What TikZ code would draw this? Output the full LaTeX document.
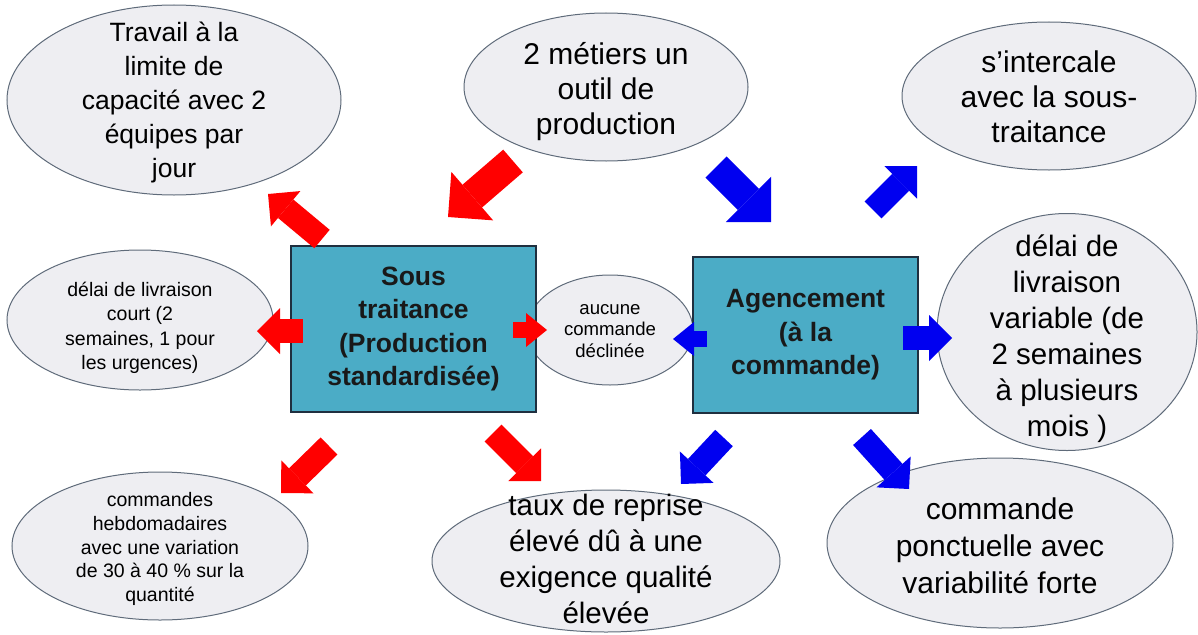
\documentclass[tikz,border=0pt]{standalone}
\usepackage{fontspec}
\setmainfont{Liberation Sans}
\usepackage{tikz}
\usetikzlibrary{arrows.meta, shapes.geometric}
\definecolor{bubblefill}{HTML}{EEEEF2}
\definecolor{bubbledraw}{HTML}{5F6B7A}
\definecolor{boxfill}{HTML}{4BACC6}
\definecolor{boxdraw}{HTML}{1F2F3F}
\definecolor{arrowred}{HTML}{FF0000}
\definecolor{arrowblue}{HTML}{0000F0}
\tikzset{
    bubble/.style={ellipse, draw=bubbledraw, fill=bubblefill, line width=1pt, inner sep=0pt}, % 椭圆气泡
    bubble text/.style={align=center, inner sep=0pt, text=black}, % 气泡中的文字
    main box/.style={draw=boxdraw, fill=boxfill, line width=1.5pt, align=center, text=black!90, font=\bfseries\fontsize{26.5}{33.5}\selectfont}, % 中间的两个方框
    small arrow/.style={line width=16pt, -{Triangle[length=21pt, width=34pt, line width=0pt]}}, % 小箭头
    mid arrow/.style={line width=24pt, -{Triangle[length=23pt, width=46pt, line width=0pt]}}, % 中箭头
    big arrow/.style={line width=30pt, -{Triangle[length=32pt, width=64pt, line width=0pt]}} % 大箭头
}
\begin{document}
\begin{tikzpicture}[x=1pt, y=-1pt]
            \def\W{1198} \def\H{634}
            \useasboundingbox (0,0) rectangle (\W,\H);
            \clip (0,0) rectangle (\W,\H);

            % bulles
            \node[bubble, minimum width=334pt, minimum height=190pt] (travail) at (174,100) {};
            \node[bubble text, font=\fontsize{26.5}{34}\selectfont] (travail txt) at ([yshift=-2pt]travail.center) {Travail à la\\limite de\\capacité avec 2\\équipes par\\jour};

            \node[bubble, minimum width=284pt, minimum height=148pt] (metiers) at (606,87) {};
            \node[bubble text, font=\fontsize{30}{35}\selectfont] (metiers txt) at ([yshift=-5pt]metiers.center) {2 métiers un\\outil de\\production};

            \node[bubble, minimum width=294pt, minimum height=148pt] (intercale) at (1049,96) {};
            \node[bubble text, font=\fontsize{30}{35}\selectfont] (intercale txt) at ([yshift=-1pt]intercale.center) {s’intercale\\avec la sous-\\traitance};

            \node[bubble, minimum width=266pt, minimum height=140pt] (delaicourt) at (140,320) {};
            \node[bubble text, font=\fontsize{19.5}{24.5}\selectfont] (delaicourt txt) at ([yshift=-8pt]delaicourt.center) {délai de livraison\\court (2\\semaines, 1 pour\\les urgences)};

            \node[bubble, minimum width=166pt, minimum height=110pt] (aucune) at (610,330) {};
            \node[bubble text, font=\fontsize{18.6}{21.7}\selectfont] (aucune txt) at ([yshift=-1pt]aucune.center) {aucune\\commande\\déclinée};

            \node[bubble, minimum width=260pt, minimum height=237pt] (delaivar) at (1067,332) {};
            \node[bubble text, font=\fontsize{29.5}{36}\selectfont] (delaivar txt) at ([yshift=-7pt]delaivar.center) {délai de\\livraison\\variable (de\\2 semaines\\à plusieurs\\mois )};

            \node[bubble, minimum width=296pt, minimum height=148pt] (hebdo) at (160,546) {};
            \node[bubble text, font=\fontsize{19.5}{23.9}\selectfont] (hebdo txt) at ([yshift=-3pt]hebdo.center) {commandes\\hebdomadaires\\avec une variation\\de 30 à 40 \% sur la\\quantité};

            \node[bubble, minimum width=348pt, minimum height=142pt] (reprise) at (606,561) {};
            \node[bubble text, font=\fontsize{29.5}{36}\selectfont] (reprise txt) at ([yshift=2pt]reprise.center) {taux de reprise\\élevé dû à une\\exigence qualité\\élevée};

            \node[bubble, minimum width=346pt, minimum height=170pt] (ponctuelle) at (1000,543) {};
            \node[bubble text, font=\fontsize{30}{37}\selectfont] (ponctuelle txt) at ([yshift=-3pt]ponctuelle.center) {commande\\ponctuelle avec\\variabilité forte};

            % boîtes
            \node[main box, minimum width=245pt, minimum height=166pt] (sous) at (413.5,329) {Sous\\traitance\\(Production\\standardisée)};
            \node[main box, minimum width=225pt, minimum height=156pt] (agenc) at (805.5,335) {Agencement\\(à la\\commande)};

            % flèches rouges
            \coordinate (r1a) at (322,239); \coordinate (r1b) at (268,194);
            \coordinate (r2a) at (513,161); \coordinate (r2b) at (448,217);
            \coordinate (r3a) at (303,331); \coordinate (r3b) at (257,331);
            \coordinate (r4a) at (513,330); \coordinate (r4b) at (547,330);
            \coordinate (r5a) at (329,446); \coordinate (r5b) at (281,493);
            \coordinate (r6a) at (493,433); \coordinate (r6b) at (541,481);
            \draw[arrowred, mid arrow] (r1a) -- (r1b);
            \draw[arrowred, big arrow] (r2a) -- (r2b);
            \draw[arrowred, mid arrow] (r3a) -- (r3b);
            \draw[arrowred, small arrow] (r4a) -- (r4b);
            \draw[arrowred, mid arrow] (r5a) -- (r5b);
            \draw[arrowred, mid arrow] (r6a) -- (r6b);

            % flèches bleues
            \coordinate (b1a) at (716,167); \coordinate (b1b) at (771,222);
            \coordinate (b2a) at (873,210); \coordinate (b2b) at (917,166);
            \coordinate (b3a) at (707,339); \coordinate (b3b) at (673,339);
            \coordinate (b4a) at (903,338); \coordinate (b4b) at (952,338);
            \coordinate (b5a) at (724,438); \coordinate (b5b) at (681,484);
            \coordinate (b6a) at (862,437); \coordinate (b6b) at (909,489);
            \draw[arrowblue, big arrow] (b1a) -- (b1b);
            \draw[arrowblue, mid arrow] (b2a) -- (b2b);
            \draw[arrowblue, small arrow] (b3a) -- (b3b);
            \draw[arrowblue, mid arrow] (b4a) -- (b4b);
            \draw[arrowblue, mid arrow] (b5a) -- (b5b);
            \draw[arrowblue, mid arrow] (b6a) -- (b6b);
        \end{tikzpicture}
\end{document}
